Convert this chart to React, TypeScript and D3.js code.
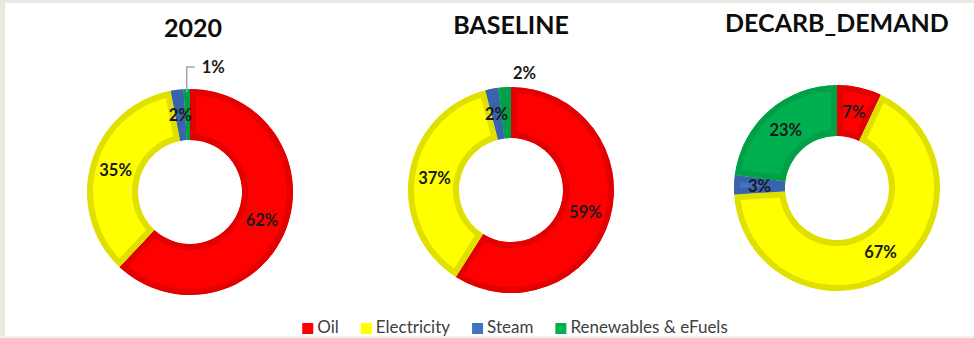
import React, { useEffect, useRef } from "react";
import * as d3 from "d3";

// Final energy mix by carrier, per scenario (shares in %)
const categories = ["Oil", "Electricity", "Steam", "Renewables & eFuels"];
const scenarios = ["2020", "BASELINE", "DECARB_DEMAND"];
const share2020 = [62, 35, 2, 1];
const shareBaseline = [59, 37, 2, 2];
const shareDecarb = [7, 67, 3, 23];
const shares = [share2020, shareBaseline, shareDecarb];

// Styling
const fillColors = ["#ff0000", "#ffff00", "#4472c4", "#00b050"];
const edgeColors = ["#e20000", "#e0e000", "#3a63ad", "#00a048"];

// Layout
const W = 974;
const H = 338;
const centersX = [190, 511, 837];
const centersY = [192, 190, 188];
const titleBaselines = [37, 34, 32];
const R_OUT = 103;
const R_IN = 52;
const EDGE = 6;
const FONT = "Lato, 'Open Sans', sans-serif";
// small slices whose labels sit outside the ring
const outsideLabels = [
  { chart: 0, slice: 3, leader: true },
  { chart: 1, slice: 3, leader: false },
];

export default function App() {
  const ref = useRef<SVGSVGElement | null>(null);

  useEffect(() => {
    const svg = d3.select(ref.current);
    svg.selectAll("*").remove();

    // frame
    svg.append("rect").attr("width", W).attr("height", H).attr("fill", "#ffffff");
    svg.append("rect").attr("x", 0).attr("y", 0).attr("width", W).attr("height", 3).attr("fill", "#e9e9e2");
    svg.append("rect").attr("x", 0).attr("y", 0).attr("width", 5).attr("height", H).attr("fill", "#e9e9e2");
    svg.append("rect").attr("x", 0).attr("y", H - 2).attr("width", W).attr("height", 2).attr("fill", "#f0f0ec");

    const defs = svg.append("defs");
    const pie = d3
      .pie<number>()
      .sort(null)
      .value((d) => d)
      .startAngle(0)
      .endAngle(2 * Math.PI);
    const arc = d3.arc<d3.PieArcDatum<number>>().innerRadius(R_IN).outerRadius(R_OUT);

    shares.forEach((vals, ci) => {
      const g = svg.append("g").attr("transform", `translate(${centersX[ci]},${centersY[ci]})`);
      const arcs = pie(vals);

      arcs.forEach((a, si) => {
        const id = `slice-${ci}-${si}`;
        const d = arc(a) as string;
        // clip each slice to itself so its darker edge is drawn only inside
        defs.append("clipPath").attr("id", id).append("path").attr("d", d);
        g.append("path")
          .attr("d", d)
          .attr("fill", fillColors[si])
          .attr("stroke", edgeColors[si])
          .attr("stroke-width", EDGE * 2)
          .attr("clip-path", `url(#${id})`);
      });

      // labels
      arcs.forEach((a, si) => {
        const out = outsideLabels.find((o) => o.chart === ci && o.slice === si);
        const text = `${vals[si]}%`;
        if (!out) {
          const [x, y] = arc.centroid(a);
          g.append("text")
            .attr("x", x)
            .attr("y", y)
            .attr("dy", "0.36em")
            .attr("text-anchor", "middle")
            .attr("font-family", FONT)
            .attr("font-weight", 700)
            .attr("font-size", 16.5)
            .attr("fill", "#1a1a1a")
            .text(text);
        } else {
          const mid = (a.startAngle + a.endAngle) / 2;
          const px = R_OUT * Math.sin(mid);
          const py = -R_OUT * Math.cos(mid);
          if (out.leader) {
            const topY = py - 22;
            g.append("polyline")
              .attr("points", `${px},${py + 3} ${px},${topY} ${px + 8},${topY}`)
              .attr("fill", "none")
              .attr("stroke", "#a6a6a6")
              .attr("stroke-width", 1.5);
            g.append("text")
              .attr("x", px + 15)
              .attr("y", topY)
              .attr("dy", "0.36em")
              .attr("font-family", FONT)
              .attr("font-weight", 700)
              .attr("font-size", 16.5)
              .attr("fill", "#1a1a1a")
              .text(text);
          } else {
            g.append("text")
              .attr("x", px + 20)
              .attr("y", py - 14)
              .attr("dy", "0.36em")
              .attr("text-anchor", "middle")
              .attr("font-family", FONT)
              .attr("font-weight", 700)
              .attr("font-size", 16.5)
              .attr("fill", "#1a1a1a")
              .text(text);
          }
        }
      });

      // title
      svg.append("text")
        .attr("x", centersX[ci] + (ci === 0 ? 3 : 0))
        .attr("y", titleBaselines[ci])
        .attr("text-anchor", "middle")
        .attr("font-family", FONT)
        .attr("font-weight", 700)
        .attr("font-size", 25)
        .attr("fill", "#0d0d0d")
        .text(scenarios[ci]);
    });

    // legend
    const legend = svg.append("g");
    const items = categories.map((c, i) => {
      const item = legend.append("g");
      item.append("rect")
        .attr("x", 0)
        .attr("y", -10)
        .attr("width", 11)
        .attr("height", 11)
        .attr("fill", fillColors[i]);
      const t = item.append("text")
        .attr("x", 15)
        .attr("y", 0)
        .attr("font-family", FONT)
        .attr("font-size", 17)
        .attr("fill", "#404040")
        .text(c);
      const w = 15 + (t.node() as SVGTextElement).getComputedTextLength();
      return { item, w };
    });
    const gap = 22;
    const total = items.reduce((s, it) => s + it.w, 0) + gap * (items.length - 1);
    let x = 515 - total / 2;
    items.forEach((it) => {
      it.item.attr("transform", `translate(${x},333)`);
      x += it.w + gap;
    });
  }, []);

  return (
    <svg
      ref={ref}
      width={W}
      height={H}
      style={{ position: "fixed", left: 0, top: 0, display: "block" }}
    />
  );
}
